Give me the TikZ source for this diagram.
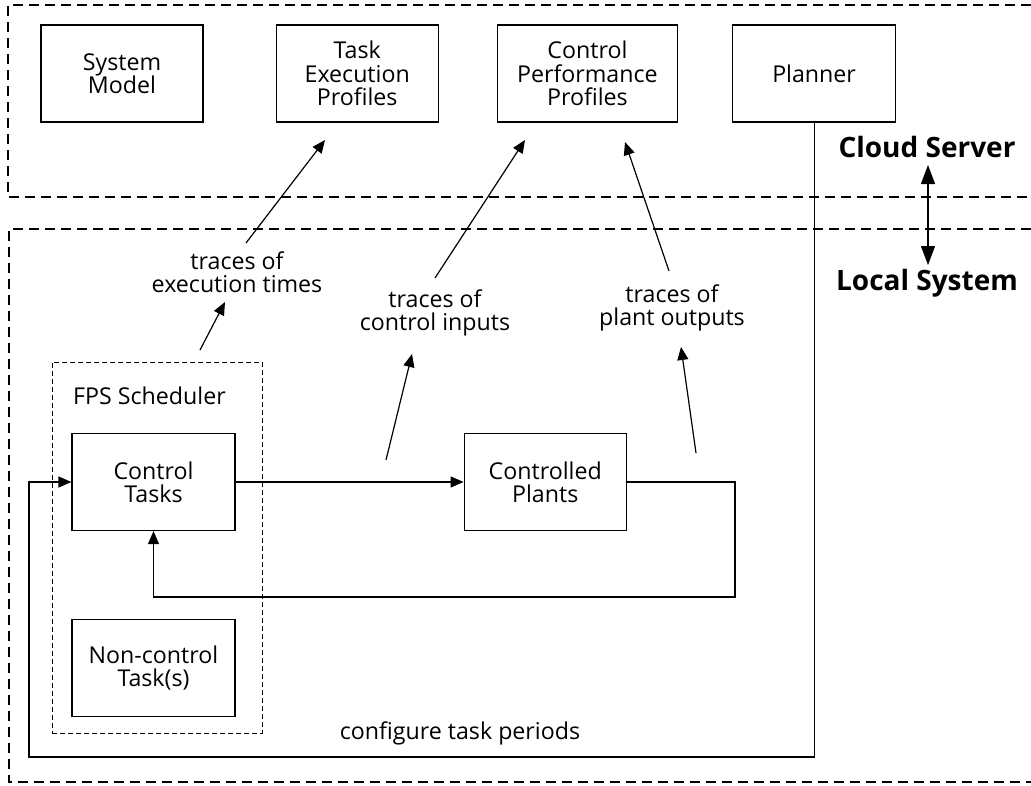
\documentclass[tikz,border=0pt]{standalone}
\usepackage{fontspec}
\setmainfont{Open Sans}
\usetikzlibrary{positioning, arrows.meta}

\begin{document}
\begin{tikzpicture}[x=1pt, y=-1pt,
	every node/.style={font=\fontsize{23.2}{23.3}\selectfont},
	block/.style={draw, line width=1.2pt, align=center, inner sep=0pt, minimum height=97pt},
	zone/.style={line width=1.2pt, dash pattern=on 10pt off 6pt},
	group/.style={draw, line width=1pt, dash pattern=on 5pt off 3pt},
	link/.style={line width=1.2pt},
	arr/.style={link, -{Triangle[length=13pt, width=11pt]}},
	side/.style={font=\fontsize{28}{30}\selectfont\bfseries}]

		\useasboundingbox (0,0) rectangle (1031,785);

		% zones %
		\draw[zone] (1031,5) -- (8,5) -- (8,197) -- (1031,197);
		\draw[zone] (1031,229) -- (9,229) -- (9,782) -- (1031,782);

		% nodes - cloud server %
		\node[block, minimum width=162pt] (model) at (122,73.5) {System\\Model};
		\node[block, minimum width=162pt, right=72pt of model] (taskprof) {Task\\Execution\\Profiles};
		\node[block, minimum width=180pt, right=58pt of taskprof] (ctrlprof) {Control\\Performance\\Profiles};
		\node[block, minimum width=163pt, right=54pt of ctrlprof] (planner) {Planner};

		% nodes - local system %
		\node[group, minimum width=210pt, minimum height=371pt] (sched) at (157,547.5) {};
		\node[anchor=west, inner sep=0pt] (schedlabel) at (73,396) {FPS Scheduler};
		\node[block, minimum width=163pt] (tasks) at (153.5,482) {Control\\Tasks};
		\node[block, minimum width=162pt, right=228pt of tasks] (plants) {Controlled\\Plants};
		\node[block, minimum width=163pt, below=88pt of tasks] (noncontrol) {Non-control\\Task(s)};

		% labels %
		\node[align=center] (exectr) at (237,272) {traces of\\execution times};
		\node[align=center] (inputtr) at (435,313) {traces of\\control inputs};
		\node[align=center] (outputtr) at (672,308) {traces of\\plant outputs};
		\node (config) at (460,733) {configure task periods};
		\node[side] (cloud) at (927,147) {Cloud Server};
		\node[side] (local) at (927,283) {Local System};

		% arrow ends %
		\coordinate (e1) at (200,350);
		\coordinate (e2) at (225,302);
		\coordinate (e3) at (246,243);
		\coordinate (e4) at (325,140);
		\coordinate (c1) at (386,460);
		\coordinate (c2) at (412,354);
		\coordinate (c3) at (435,278);
		\coordinate (c4) at (525,140);
		\coordinate (p1) at (696,453);
		\coordinate (p2) at (681,347);
		\coordinate (p3) at (669,271);
		\coordinate (p4) at (625,142);
		\coordinate (loopcorner) at (29,757);
		\coordinate (fb) at (735,597);
		\coordinate (cs) at (928,165);
		\coordinate (ls) at (928,265);

		% edges %
		\draw[arr] (e1) -- (e2);
		\draw[arr] (e3) -- (e4);
		\draw[arr] (c1) -- (c2);
		\draw[arr] (c3) -- (c4);
		\draw[arr] (p1) -- (p2);
		\draw[arr] (p3) -- (p4);
		\draw[arr] (tasks) -- (plants);
		\draw[arr] (plants.east) -| (fb) -| (tasks.south);
		\draw[arr] (planner.south) |- (loopcorner) |- (tasks.west);
		\draw[link, {Triangle[length=19pt, width=14pt]}-{Triangle[length=19pt, width=14pt]}] (cs) -- (ls);

\end{tikzpicture}
\end{document}
